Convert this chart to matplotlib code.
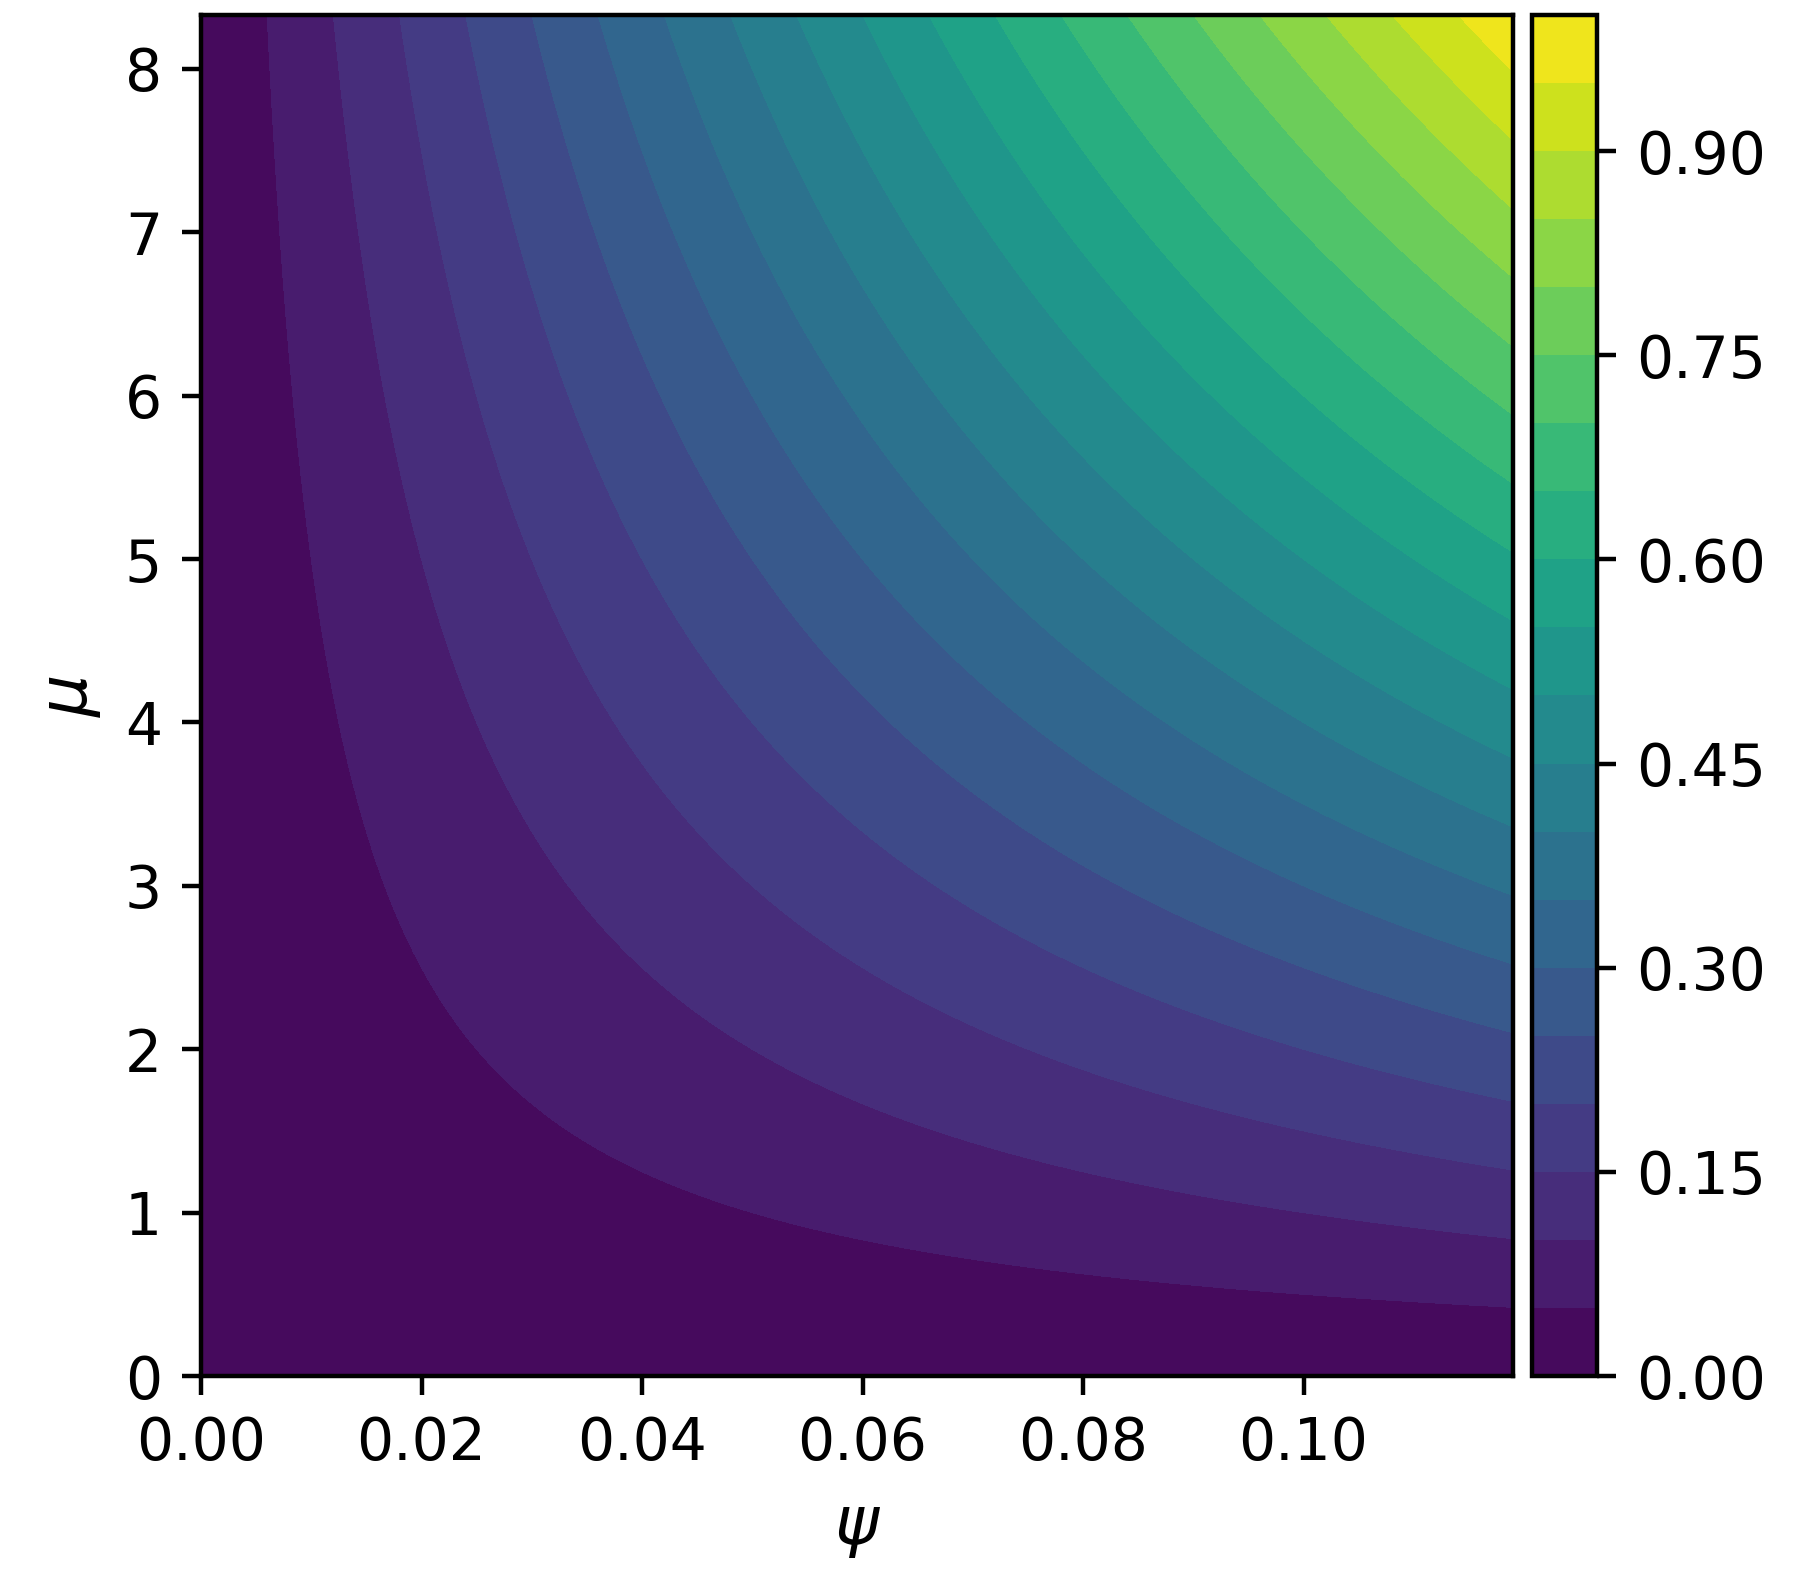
import numpy as np
import matplotlib
matplotlib.use("Agg")
import matplotlib.pyplot as plt

# Data: grid of psi and mu values; surface value is psi * mu
psi_max = 0.119
mu_max = 8.33
psi = np.linspace(0.0, psi_max, 120)
mu = np.linspace(0.0, mu_max, 120)
Z = np.outer(mu, psi)

levels = np.arange(0.0, 1.0001, 0.05)
x_ticks = [0.00, 0.02, 0.04, 0.06, 0.08, 0.10]
y_ticks = [0, 1, 2, 3, 4, 5, 6, 7, 8]
cbar_ticks = [0.00, 0.15, 0.30, 0.45, 0.60, 0.75, 0.90]

plt.rcParams['font.size'] = 10.5
W, H = 1793, 1579
dpi = 400
fig = plt.figure(figsize=(W / dpi, H / dpi), dpi=dpi)
ax = fig.add_axes([201 / W, 1 - 1376 / H, (1513 - 201) / W, (1376 - 15) / H])
cax = fig.add_axes([1532 / W, 1 - 1376 / H, (1597 - 1532) / W, (1376 - 15) / H])

cs = ax.contourf(psi, mu, Z, levels=levels, cmap='viridis')
ax.set_xlim(0, psi_max)
ax.set_ylim(0, mu_max)
ax.set_xticks(x_ticks)
ax.set_xticklabels([f"{v:.2f}" for v in x_ticks])
ax.set_yticks(y_ticks)
ax.set_xlabel(r'$\psi$', fontsize=12)
ax.set_ylabel(r'$\mu$', fontsize=12)

cb = fig.colorbar(cs, cax=cax)
cb.set_ticks(cbar_ticks)
cb.set_ticklabels([f"{v:.2f}" for v in cbar_ticks])

fig.savefig("out.png", dpi=dpi)
